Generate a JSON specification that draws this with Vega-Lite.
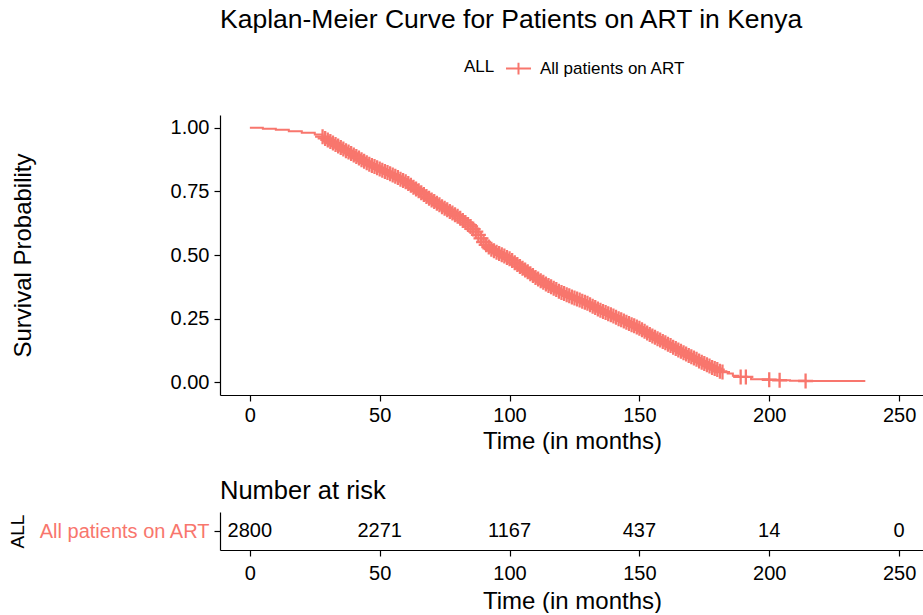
{
  "$schema": "https://vega.github.io/schema/vega-lite/v6.json",
  "padding": {"left": 8, "top": 6, "right": 0, "bottom": 0},
  "spacing": 25,
  "config": {
    "view": {"stroke": null},
    "font": "Liberation Sans",
    "axis": {
      "grid": false, "domainColor": "black", "tickColor": "black", "domainWidth": 1.2, "tickWidth": 1.2,
      "tickSize": 6, "labelPadding": 5, "labelFont": "Liberation Sans", "labelFontSize": 20, "labelColor": "black",
      "titleFont": "Liberation Sans", "titleFontSize": 24, "titleFontWeight": "normal", "titleColor": "black"
    },
    "title": {"font": "Liberation Sans", "fontWeight": "normal", "color": "black"}
  },
  "datasets": {
    "km": [
      {"t":0,"s":1.0,"c":0},{"t":5,"s":0.996,"c":0},{"t":10,"s":0.992,"c":0},{"t":15,"s":0.986,"c":0},{"t":20,"s":0.98,"c":0},{"t":25,"s":0.973,"c":0},
      {"t":28,"s":0.965,"c":1},{"t":29,"s":0.958,"c":1},{"t":30,"s":0.952,"c":1},{"t":31,"s":0.946,"c":1},{"t":32,"s":0.94,"c":1},{"t":33,"s":0.934,"c":1},{"t":34,"s":0.928,"c":1},{"t":35,"s":0.922,"c":1},{"t":36,"s":0.916,"c":1},{"t":37,"s":0.91,"c":1},{"t":38,"s":0.905,"c":1},{"t":39,"s":0.899,"c":1},
      {"t":40,"s":0.893,"c":1},{"t":41,"s":0.887,"c":1},{"t":42,"s":0.881,"c":1},{"t":43,"s":0.874,"c":1},{"t":44,"s":0.868,"c":1},{"t":45,"s":0.862,"c":1},{"t":46,"s":0.857,"c":1},{"t":47,"s":0.852,"c":1},{"t":48,"s":0.848,"c":1},{"t":49,"s":0.843,"c":1},
      {"t":50,"s":0.838,"c":1},{"t":51,"s":0.833,"c":1},{"t":52,"s":0.828,"c":1},{"t":53,"s":0.824,"c":1},{"t":54,"s":0.819,"c":1},{"t":55,"s":0.814,"c":1},{"t":56,"s":0.809,"c":1},{"t":57,"s":0.804,"c":1},{"t":58,"s":0.798,"c":1},{"t":59,"s":0.793,"c":1},
      {"t":60,"s":0.788,"c":1},{"t":61,"s":0.781,"c":1},{"t":62,"s":0.774,"c":1},{"t":63,"s":0.766,"c":1},{"t":64,"s":0.759,"c":1},{"t":65,"s":0.752,"c":1},{"t":66,"s":0.745,"c":1},{"t":67,"s":0.738,"c":1},{"t":68,"s":0.73,"c":1},{"t":69,"s":0.723,"c":1},
      {"t":70,"s":0.716,"c":1},{"t":71,"s":0.71,"c":1},{"t":72,"s":0.703,"c":1},{"t":73,"s":0.697,"c":1},{"t":74,"s":0.69,"c":1},{"t":75,"s":0.684,"c":1},{"t":76,"s":0.678,"c":1},{"t":77,"s":0.671,"c":1},{"t":78,"s":0.665,"c":1},{"t":79,"s":0.658,"c":1},
      {"t":80,"s":0.652,"c":1},{"t":81,"s":0.644,"c":1},{"t":82,"s":0.636,"c":1},{"t":83,"s":0.628,"c":1},{"t":84,"s":0.62,"c":1},{"t":85,"s":0.612,"c":1},{"t":86,"s":0.602,"c":1},{"t":87,"s":0.592,"c":1},{"t":88,"s":0.579,"c":1},{"t":89,"s":0.565,"c":1},
      {"t":90,"s":0.551,"c":1},{"t":91,"s":0.54,"c":1},{"t":92,"s":0.531,"c":1},{"t":93,"s":0.523,"c":1},{"t":94,"s":0.517,"c":1},{"t":95,"s":0.511,"c":1},{"t":96,"s":0.506,"c":1},{"t":97,"s":0.501,"c":1},{"t":98,"s":0.496,"c":1},{"t":99,"s":0.49,"c":1},
      {"t":100,"s":0.485,"c":1},{"t":101,"s":0.478,"c":1},{"t":102,"s":0.47,"c":1},{"t":103,"s":0.463,"c":1},{"t":104,"s":0.455,"c":1},{"t":105,"s":0.448,"c":1},{"t":106,"s":0.441,"c":1},{"t":107,"s":0.434,"c":1},{"t":108,"s":0.426,"c":1},{"t":109,"s":0.419,"c":1},
      {"t":110,"s":0.412,"c":1},{"t":111,"s":0.406,"c":1},{"t":112,"s":0.399,"c":1},{"t":113,"s":0.393,"c":1},{"t":114,"s":0.386,"c":1},{"t":115,"s":0.38,"c":1},{"t":116,"s":0.375,"c":1},{"t":117,"s":0.369,"c":1},{"t":118,"s":0.364,"c":1},{"t":119,"s":0.358,"c":1},
      {"t":120,"s":0.353,"c":1},{"t":121,"s":0.349,"c":1},{"t":122,"s":0.344,"c":1},{"t":123,"s":0.34,"c":1},{"t":124,"s":0.335,"c":1},{"t":125,"s":0.331,"c":1},{"t":126,"s":0.327,"c":1},{"t":127,"s":0.323,"c":1},{"t":128,"s":0.318,"c":1},{"t":129,"s":0.314,"c":1},
      {"t":130,"s":0.31,"c":1},{"t":131,"s":0.305,"c":1},{"t":132,"s":0.299,"c":1},{"t":133,"s":0.294,"c":1},{"t":134,"s":0.288,"c":1},{"t":135,"s":0.283,"c":1},{"t":136,"s":0.278,"c":1},{"t":137,"s":0.274,"c":1},{"t":138,"s":0.269,"c":1},{"t":139,"s":0.265,"c":1},
      {"t":140,"s":0.26,"c":1},{"t":141,"s":0.255,"c":1},{"t":142,"s":0.25,"c":1},{"t":143,"s":0.246,"c":1},{"t":144,"s":0.241,"c":1},{"t":145,"s":0.236,"c":1},{"t":146,"s":0.231,"c":1},{"t":147,"s":0.226,"c":1},{"t":148,"s":0.222,"c":1},{"t":149,"s":0.217,"c":1},
      {"t":150,"s":0.212,"c":1},{"t":151,"s":0.206,"c":1},{"t":152,"s":0.2,"c":1},{"t":153,"s":0.194,"c":1},{"t":154,"s":0.188,"c":1},{"t":155,"s":0.182,"c":1},{"t":156,"s":0.177,"c":1},{"t":157,"s":0.171,"c":1},{"t":158,"s":0.166,"c":1},{"t":159,"s":0.16,"c":1},
      {"t":160,"s":0.155,"c":1},{"t":161,"s":0.149,"c":1},{"t":162,"s":0.144,"c":1},{"t":163,"s":0.138,"c":1},{"t":164,"s":0.133,"c":1},{"t":165,"s":0.127,"c":1},{"t":166,"s":0.122,"c":1},{"t":167,"s":0.116,"c":1},{"t":168,"s":0.111,"c":1},{"t":169,"s":0.105,"c":1},
      {"t":170,"s":0.1,"c":1},{"t":171,"s":0.095,"c":1},{"t":172,"s":0.09,"c":1},{"t":173,"s":0.084,"c":1},{"t":174,"s":0.079,"c":1},{"t":175,"s":0.074,"c":1},{"t":176,"s":0.069,"c":1},{"t":177,"s":0.064,"c":1},{"t":178,"s":0.058,"c":1},{"t":179,"s":0.054,"c":1},
      {"t":180,"s":0.05,"c":1},{"t":181,"s":0.043,"c":1},{"t":182,"s":0.04,"c":1},{"t":184,"s":0.034,"c":0},{"t":186,"s":0.026,"c":0},{"t":188,"s":0.021,"c":0},{"t":189,"s":0.021,"c":1},{"t":191,"s":0.021,"c":1},{"t":193,"s":0.012,"c":0},
      {"t":200,"s":0.01,"c":1},{"t":204,"s":0.008,"c":1},{"t":208,"s":0.006,"c":0},{"t":214,"s":0.005,"c":1},{"t":237,"s":0.005,"c":0}
    ],
    "risk": [
      {"t":0,"n":2800,"g":"All patients on ART"},
      {"t":50,"n":2271,"g":"All patients on ART"},
      {"t":100,"n":1167,"g":"All patients on ART"},
      {"t":150,"n":437,"g":"All patients on ART"},
      {"t":200,"n":14,"g":"All patients on ART"},
      {"t":250,"n":0,"g":"All patients on ART"}
    ]
  },
  "vconcat": [
    {
      "width": 704,
      "height": 280,
      "title": {"text": "Kaplan-Meier Curve for Patients on ART in Kenya", "anchor": "start", "frame": "group", "fontSize": 26.5, "offset": 82},
      "data": {"name": "km"},
      "encoding": {
        "x": {"field": "t", "type": "quantitative", "scale": {"domain": [-11.5, 259.6], "nice": false, "zero": false},
              "axis": {"values": [0, 50, 100, 150, 200, 250], "title": "Time (in months)", "titlePadding": 4, "labelPadding": 4}},
        "y": {"field": "s", "type": "quantitative", "scale": {"domain": [-0.05, 1.05], "nice": false, "zero": false},
              "axis": {"values": [0, 0.25, 0.5, 0.75, 1], "format": ".2f", "title": "Survival Probability", "titlePadding": 135}},
        "color": {"datum": "All patients on ART", "type": "nominal",
                  "scale": {"domain": ["All patients on ART"], "range": ["#F8766D"]},
                  "legend": {"orient": "none", "legendX": 244, "legendY": -60, "direction": "horizontal",
                             "title": "ALL", "titleOrient": "left", "titleFontSize": 17, "titleFontWeight": "normal", "titleColor": "black", "titlePadding": 10,
                             "labelFontSize": 17, "labelColor": "black", "labelOffset": 8,
                             "symbolType": "M-1,0H1M0,-0.47V0.47", "symbolSize": 625, "symbolStrokeWidth": 2, "symbolStrokeColor": "#F8766D", "symbolFillColor": "transparent", "padding": 0}}
      },
      "layer": [
        {"mark": {"type": "line", "interpolate": "step-after", "strokeWidth": 2}},
        {"transform": [{"filter": "datum.c == 1"}],
         "mark": {"type": "point", "shape": "M-1,0H1M0,-1V1", "filled": false, "strokeWidth": 2.3, "size": 225, "opacity": 1}}
      ]
    },
    {
      "width": 704,
      "height": 38,
      "title": {"text": "Number at risk", "anchor": "start", "frame": "group", "fontSize": 25.5, "offset": 8},
      "data": {"name": "risk"},
      "mark": {"type": "text", "fontSize": 20, "font": "Liberation Sans", "color": "black"},
      "encoding": {
        "x": {"field": "t", "type": "quantitative", "scale": {"domain": [-11.5, 259.6], "nice": false, "zero": false},
              "axis": {"values": [0, 50, 100, 150, 200, 250], "title": "Time (in months)", "titlePadding": 6, "labelPadding": 7}},
        "y": {"field": "g", "type": "nominal",
              "axis": {"title": "ALL", "titleFontSize": 19, "titlePadding": 11, "labelColor": "#F8766D", "labelFontSize": 20}},
        "text": {"field": "n", "type": "quantitative"}
      }
    }
  ]
}
